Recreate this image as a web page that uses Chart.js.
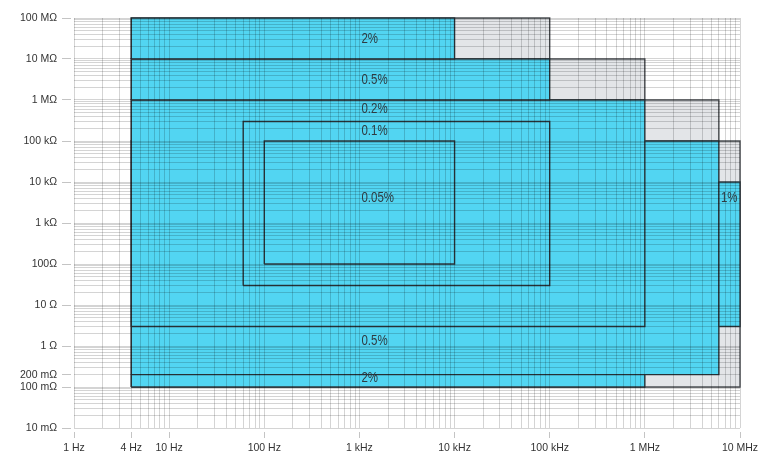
<!DOCTYPE html>
<html>
<head>
<meta charset="utf-8">
<script src="https://cdn.jsdelivr.net/npm/chart.js@4.4.1/dist/chart.umd.min.js"></script>
<style>
  html, body { margin: 0; padding: 0; background: #fff; }
  #wrap { width: 764px; height: 456px; }
</style>
</head>
<body>
<div id="wrap"><canvas id="accuracyChart"></canvas></div>
<script>
// axis ticks: frequency in Hz, impedance in ohm
const freqTicks = [1, 4, 10, 100, 1e3, 1e4, 1e5, 1e6, 1e7];
const freqLabels = ['1 Hz', '4 Hz', '10 Hz', '100 Hz', '1 kHz', '10 kHz', '100 kHz', '1 MHz', '10 MHz'];
const ohmTicks = [0.01, 0.1, 0.2, 1, 10, 100, 1e3, 1e4, 1e5, 1e6, 1e7, 1e8];
const ohmLabels = ['10 mΩ', '100 mΩ', '200 mΩ', '1 Ω', '10 Ω', '100Ω', '1 kΩ', '10 kΩ', '100 kΩ', '1 MΩ', '10 MΩ', '100 MΩ'];

// grey areas [fMin, fMax, zMin, zMax], bottom to top
const greyAreas = [
    [4, 1e7, 0.1, 1e5],
    [4, 6e6, 1e5, 1e6],
    [4, 1e6, 1e6, 1e7],
    [4, 1e5, 1e7, 1e8]
];

// accuracy areas [fMin, fMax, zMin, zMax], bottom to top
const accuracyAreas = [
    [4, 6e6, 0.2, 1e5],
    [4, 1e6, 0.1, 0.2],
    [4, 1e6, 3, 1e6],
    [4, 1e5, 1e6, 1e7],
    [4, 1e4, 1e7, 1e8],
    [60, 1e5, 30, 3e5],
    [100, 1e4, 100, 1e5],
    [6e6, 1e7, 3, 1e4]
];
const accuracyText = ['0.5%', '2%', '0.2%', '0.5%', '2%', '0.1%', '0.05%', '1%'];
const textFreq = [1e3, 1e3, 1e3, 1e3, 1e3, 1e3, 1e3, 6e6];
const textOhm = [1.3, 0.16, 6e5, 3e6, 3e7, 1.7e5, 4e3, 4e3];

function gridValues(fromExp, toExp) {
    const vals = [];
    for (let e = fromExp; e < toExp; e++) {
        for (let m = 1; m < 10; m++) {
            vals.push(Number((m * Math.pow(10, e)).toPrecision(6)));
        }
    }
    vals.push(Math.pow(10, toExp));
    return vals;
}

function findLabel(value, ticks, labels) {
    const i = ticks.findIndex(t => Math.abs(Math.log10(t) - Math.log10(value)) < 1e-6);
    return i >= 0 ? labels[i] : '';
}

function rectDataset(r, fill, stroke) {
    return {
        data: [
            {x: r[0], y: r[2]}, {x: r[1], y: r[2]}, {x: r[1], y: r[3]},
            {x: r[0], y: r[3]}, {x: r[0], y: r[2]}
        ],
        showLine: true,
        fill: 'shape',
        backgroundColor: fill,
        borderColor: stroke,
        borderWidth: 1.4,
        borderJoinStyle: 'miter',
        pointRadius: 0,
        pointHitRadius: 0,
        tension: 0,
        clip: 3
    };
}

const layers = [];
greyAreas.forEach(r => layers.push(rectDataset(r, '#e3e5e8', '#4d5155')));
accuracyAreas.forEach(r => layers.push(rectDataset(r, '#52d5f2', '#2e3a40')));
// chart.js paints dataset 0 last, so put the top layer first
layers.reverse();

// narrow lettering for the percentages (squeezed Liberation Sans)
const percentLabels = {
    id: 'percentLabels',
    afterDraw(chart) {
        const {ctx, scales: {x, y}} = chart;
        accuracyText.forEach((t, i) => {
            ctx.save();
            ctx.translate(x.getPixelForValue(textFreq[i]) + 2, y.getPixelForValue(textOhm[i]));
            ctx.scale(0.82, 1);
            ctx.font = "14px 'Liberation Sans', Arial, sans-serif";
            ctx.fillStyle = '#2f3b42';
            ctx.textAlign = 'left';
            ctx.textBaseline = 'middle';
            ctx.fillText(t, 0, 0);
            ctx.restore();
        });
    }
};

const axisFont = { size: 10.5, family: "'Liberation Sans', Arial, sans-serif" };
const gridColor = 'rgba(0, 0, 0, 0.17)';

new Chart(document.getElementById('accuracyChart'), {
    type: 'scatter',
    data: { datasets: layers },
    options: {
        responsive: true,
        maintainAspectRatio: false,
        animation: false,
        events: [],
        layout: { padding: { top: 18, right: 24, bottom: 0, left: 0 } },
        plugins: {
            legend: { display: false },
            tooltip: { enabled: false }
        },
        scales: {
            x: {
                type: 'logarithmic',
                min: 1,
                max: 1e7,
                afterBuildTicks: (scale) => {
                    scale.ticks = gridValues(0, 7).map(v => ({ value: v }));
                },
                afterFit: (scale) => { scale.height = 28; },
                border: { display: false },
                grid: {
                    z: 1,
                    color: gridColor,
                    tickLength: 10,
                    tickBorderDash: [0, 4, 6, 20],
                    tickColor: (ctx) => findLabel(ctx.tick.value, freqTicks, freqLabels) ? '#c4c4c4' : 'rgba(0,0,0,0)'
                },
                ticks: {
                    autoSkip: false,
                    maxRotation: 0,
                    padding: 4,
                    color: '#333',
                    font: axisFont,
                    callback: (value) => findLabel(value, freqTicks, freqLabels)
                }
            },
            y: {
                type: 'logarithmic',
                min: 0.01,
                max: 1e8,
                afterBuildTicks: (scale) => {
                    scale.ticks = gridValues(-2, 8).map(v => ({ value: v }));
                },
                afterFit: (scale) => { scale.width = 74; },
                border: { display: false },
                grid: {
                    z: 1,
                    color: gridColor,
                    tickLength: 12,
                    tickBorderDash: [9, 20],
                    tickColor: (ctx) => findLabel(ctx.tick.value, ohmTicks, ohmLabels) ? '#c4c4c4' : 'rgba(0,0,0,0)'
                },
                ticks: {
                    autoSkip: false,
                    padding: 5,
                    color: '#333',
                    font: axisFont,
                    callback: (value) => findLabel(value, ohmTicks, ohmLabels)
                }
            }
        }
    },
    plugins: [percentLabels]
});
</script>
</body>
</html>
